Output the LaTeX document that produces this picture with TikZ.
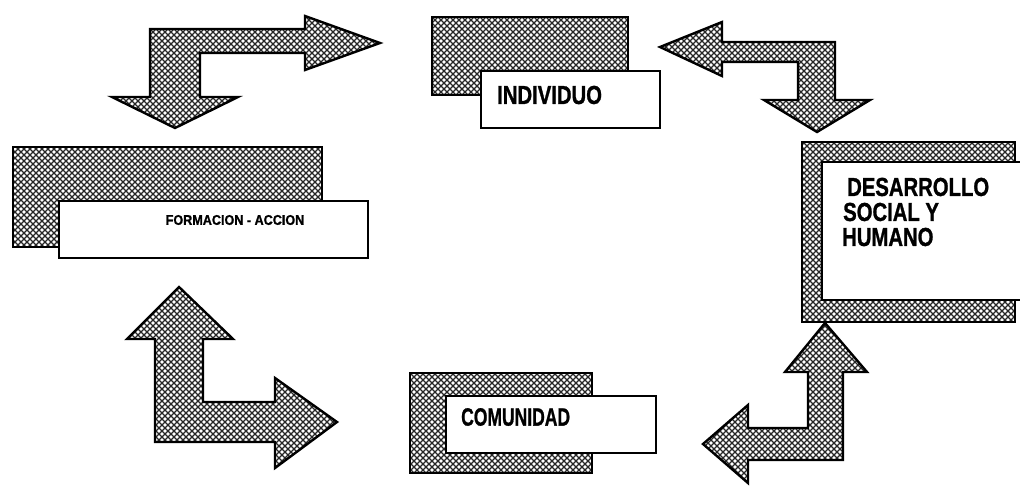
\documentclass[tikz,border=0pt]{standalone}
\usepackage{fontspec}
\setmainfont{Liberation Sans}[BoldFont={Liberation Sans Bold}, BoldFeatures={FakeBold=1.2}]
\usetikzlibrary{patterns.meta}
\tikzdeclarepattern{
  name=xmark,
  type=uncolored,
  bottom left={(-.1pt,-.1pt)}, top right={(6.1pt,6.1pt)},
  tile size={(6pt,6pt)},
  code={\draw[line width=1.3pt] (0,0)--(6pt,6pt) (0,6pt)--(6pt,0);}
}
\tikzset{
  hatched/.style={draw=black, line width=2.4pt, line join=miter, preaction={fill=white}, pattern=xmark, pattern color=black!85},
  whitebox/.style={draw=black, line width=2.4pt, fill=white},
  lbl/.style={inner sep=0pt, font=\bfseries},
}
\begin{document}
\begin{tikzpicture}[x=1pt,y=-1pt]
\useasboundingbox (0,0) rectangle (1020,485);
\clip (0,0) rectangle (1020,485);
\fill[white] (0,0) rectangle (1020,485);

% top-left block arrow
\draw[hatched] (150,29) -- (305,29) -- (305,16) -- (380,43) -- (305,70) -- (305,53)
  -- (200,53) -- (200,97) -- (238,97) -- (175,128) -- (112,97) -- (150,97) -- cycle;

% top-right block arrow
\draw[hatched] (660,47) -- (722,22) -- (722,42) -- (835,42) -- (835,100) -- (870,100)
  -- (817,132) -- (764,100) -- (798,100) -- (798,62) -- (722,62) -- (722,76) -- cycle;

% bottom-left block arrow
\draw[hatched] (179,287) -- (233,339) -- (203,339) -- (203,402) -- (275,402) -- (275,378)
  -- (337,422) -- (275,468) -- (275,442) -- (155,442) -- (155,339) -- (127,339) -- cycle;

% bottom-right block arrow
\draw[hatched] (825,323) -- (867,372) -- (843,372) -- (843,460) -- (748,460) -- (748,483)
  -- (703,444) -- (748,405) -- (748,428) -- (808,428) -- (808,372) -- (785,372) -- cycle;

% FORMACION - ACCION
\draw[hatched] (13,147) rectangle (322,247);
\node[whitebox, minimum width=309pt, minimum height=57pt, anchor=north west] (form) at (58,200) {};
\node[lbl, font=\bfseries\fontsize{14}{15}\selectfont] (formt) at (235,220) {\scalebox{0.9}[1]{FORMACION - ACCION}};

% INDIVIDUO
\draw[hatched] (432,17) rectangle (628,95);
\node[whitebox, minimum width=179pt, minimum height=57pt, anchor=north west] (ind) at (480,70) {};
\node[lbl, anchor=west, font=\bfseries\fontsize{26}{27}\selectfont] (indt) at (497,95) {\scalebox{0.78}[1]{INDIVIDUO}};

% DESARROLLO SOCIAL Y HUMANO
\draw[hatched] (802,142) rectangle (1015,322);
\fill[white] (822,162) rectangle (1030,300);
\draw[line width=2.4pt] (1030,162) -- (822,162) -- (822,300) -- (1030,300);
\node[lbl, anchor=west, font=\bfseries\fontsize{26}{27}\selectfont] (des1) at (847,187) {\scalebox{0.78}[1]{DESARROLLO}};
\node[lbl, anchor=west, font=\bfseries\fontsize{26}{27}\selectfont] (des2) at (843,212) {\scalebox{0.78}[1]{SOCIAL Y}};
\node[lbl, anchor=west, font=\bfseries\fontsize{26}{27}\selectfont] (des3) at (842,237) {\scalebox{0.78}[1]{HUMANO}};

% COMUNIDAD
\draw[hatched] (410,373) rectangle (592,473);
\node[whitebox, minimum width=210pt, minimum height=57pt, anchor=north west] (com) at (445,395) {};
\node[lbl, anchor=west, font=\bfseries\fontsize{25}{26}\selectfont] (comt) at (461,417) {\scalebox{0.7}[1]{COMUNIDAD}};
\end{tikzpicture}
\end{document}
